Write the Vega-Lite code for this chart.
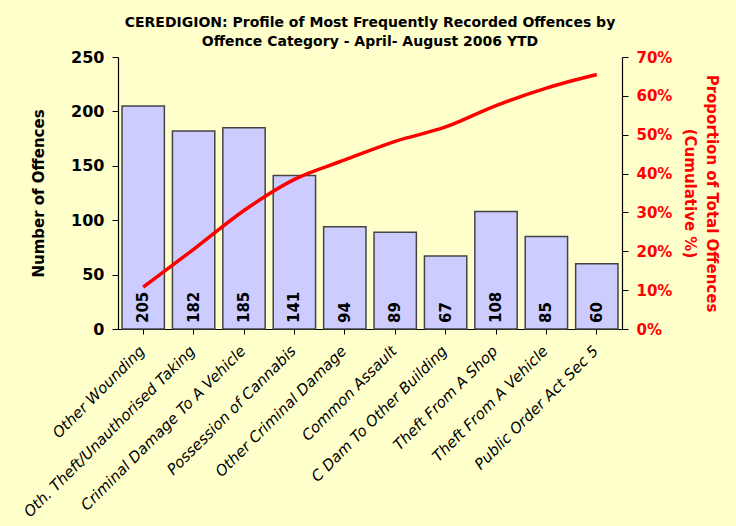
{
  "$schema": "https://vega.github.io/schema/vega-lite/v6.json",
  "autosize": {"type": "none"},
  "width": 504,
  "height": 272,
  "padding": {"left": 118, "top": 57, "right": 114, "bottom": 197},
  "background": "#FFFFCC",
  "title": {
    "text": ["CEREDIGION: Profile of Most Frequently Recorded Offences by ", "Offence Category - April- August 2006 YTD"],
    "font": "DejaVu Sans",
    "fontSize": 14,
    "fontWeight": "bold",
    "color": "#000000",
    "lineHeight": 19,
    "anchor": "middle",
    "offset": 0
  },
  "config": {
    "view": {"stroke": null},
    "font": "DejaVu Sans",
    "axis": {"grid": false, "domainColor": "#000000", "tickColor": "#000000", "domainWidth": 1.2}
  },
  "data": {
    "values": [
      {"offence": "Other Wounding", "count": 205, "cum": 0.108},
      {"offence": "Oth. Theft/Unauthorised Taking", "count": 182, "cum": 0.205},
      {"offence": "Criminal Damage To A Vehicle", "count": 185, "cum": 0.305},
      {"offence": "Possession of Cannabis", "count": 141, "cum": 0.385},
      {"offence": "Other Criminal Damage", "count": 94, "cum": 0.435},
      {"offence": "Common Assault", "count": 89, "cum": 0.483},
      {"offence": "C Dam To  Other Building", "count": 67, "cum": 0.52},
      {"offence": "Theft From A Shop", "count": 108, "cum": 0.575},
      {"offence": "Theft From A Vehicle", "count": 85, "cum": 0.62},
      {"offence": "Public Order Act Sec 5", "count": 60, "cum": 0.655}
    ]
  },
  "encoding": {
    "x": {
      "field": "offence",
      "type": "nominal",
      "sort": null,
      "scale": {"paddingInner": 0.16, "paddingOuter": 0.08},
      "axis": {
        "title": null,
        "labelAngle": -45,
        "labelFont": "DejaVu Sans",
        "labelFontSize": 15,
        "labelFontStyle": "italic",
        "labelColor": "#000000",
        "labelLimit": 300,
        "labelOffset": -6,
        "tickSize": 5,
        "labelPadding": 9
      }
    }
  },
  "layer": [
    {
      "encoding": {
        "y": {
          "field": "count",
          "type": "quantitative",
          "scale": {"domain": [0, 250]},
          "axis": {
            "title": "Number of Offences",
            "titleFontSize": 15,
            "titleFontWeight": "bold",
            "titleColor": "#000000",
            "titlePadding": 24,
            "values": [0, 50, 100, 150, 200, 250],
            "labelFontSize": 16,
            "labelFontWeight": "bold",
            "labelColor": "#000000",
            "labelPadding": 8,
            "tickSize": 6
          }
        }
      },
      "layer": [
        {
          "mark": {"type": "bar", "fill": "#CCCCFF", "stroke": "#444444", "strokeWidth": 1.5}
        },
        {
          "mark": {"type": "text", "angle": -90, "align": "left", "baseline": "middle", "dx": 6, "fontSize": 15, "fontWeight": "bold", "color": "#000000"},
          "encoding": {
            "y": {"datum": 0, "type": "quantitative"},
            "text": {"field": "count", "type": "quantitative"}
          }
        }
      ]
    },
    {
      "mark": {"type": "line", "color": "#FF0000", "strokeWidth": 3.5, "interpolate": "monotone"},
      "encoding": {
        "y": {
          "field": "cum",
          "type": "quantitative",
          "scale": {"domain": [0, 0.7]},
          "axis": {
            "orient": "right",
            "format": ".0%",
            "values": [0, 0.1, 0.2, 0.3, 0.4, 0.5, 0.6, 0.7],
            "title": ["Proportion of Total Offences", " (Cumulative %)"],
            "titleFontSize": 15,
            "titleFontWeight": "bold",
            "titleColor": "#FF0000",
            "titlePadding": 10,
            "titleLineHeight": 22,
            "labelFontSize": 15,
            "labelFontWeight": "bold",
            "labelColor": "#FF0000",
            "labelPadding": 8,
            "tickSize": 6
          }
        }
      }
    }
  ],
  "resolve": {"scale": {"y": "independent"}}
}
